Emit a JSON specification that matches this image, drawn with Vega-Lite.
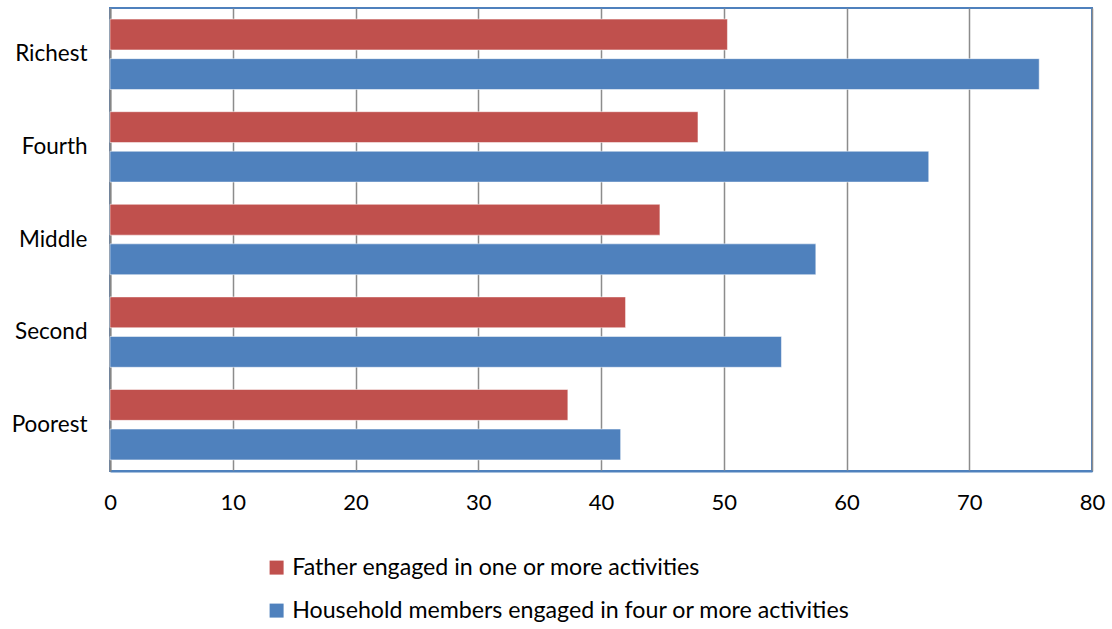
{
  "$schema": "https://vega.github.io/schema/vega-lite/v6.json",
  "width": 982,
  "height": 463,
  "autosize": {"type": "none"},
  "padding": {"left": 110, "top": 8, "right": 20, "bottom": 158},
  "background": "white",
  "config": {
    "font": "Lato",
    "view": {"stroke": "#4F81BD", "strokeWidth": 2},
    "axis": {"labelFont": "Lato", "labelColor": "#000000"}
  },
  "data": {
    "values": [
      {"quintile": "Richest", "series": "Father engaged in one or more activities", "value": 50.3},
      {"quintile": "Richest", "series": "Household members engaged in four or more activities", "value": 75.7},
      {"quintile": "Fourth", "series": "Father engaged in one or more activities", "value": 47.9},
      {"quintile": "Fourth", "series": "Household members engaged in four or more activities", "value": 66.7},
      {"quintile": "Middle", "series": "Father engaged in one or more activities", "value": 44.8},
      {"quintile": "Middle", "series": "Household members engaged in four or more activities", "value": 57.5},
      {"quintile": "Second", "series": "Father engaged in one or more activities", "value": 42.0},
      {"quintile": "Second", "series": "Household members engaged in four or more activities", "value": 54.7},
      {"quintile": "Poorest", "series": "Father engaged in one or more activities", "value": 37.3},
      {"quintile": "Poorest", "series": "Household members engaged in four or more activities", "value": 41.6}
    ]
  },
  "mark": {"type": "bar", "stroke": "#ffffff", "strokeWidth": 1, "strokeOpacity": 0.5},
  "encoding": {
    "y": {
      "field": "quintile",
      "type": "nominal",
      "sort": ["Richest", "Fourth", "Middle", "Second", "Poorest"],
      "scale": {"paddingInner": 0.24, "paddingOuter": 0.12},
      "axis": {
        "title": null,
        "ticks": false,
        "domainColor": "#868686",
        "domainWidth": 2,
        "labelFontSize": 22.5,
        "labelPadding": 23
      }
    },
    "yOffset": {
      "field": "series",
      "type": "nominal",
      "scale": {"paddingInner": 0.22, "paddingOuter": 0}
    },
    "x": {
      "field": "value",
      "type": "quantitative",
      "scale": {"domain": [0, 80], "nice": false},
      "axis": {
        "title": null,
        "values": [0, 10, 20, 30, 40, 50, 60, 70, 80],
        "ticks": false,
        "labelFlush": false,
        "domainColor": "#4F81BD",
        "domainWidth": 2,
        "grid": true,
        "gridColor": "#8C8C8C",
        "gridWidth": 1.5,
        "labelFontSize": 22,
        "labelPadding": 21
      }
    },
    "color": {
      "field": "series",
      "type": "nominal",
      "scale": {
        "domain": ["Father engaged in one or more activities", "Household members engaged in four or more activities"],
        "range": ["#C0504D", "#4F81BD"]
      },
      "legend": {
        "title": null,
        "orient": "none",
        "legendX": 155,
        "legendY": 548,
        "symbolType": "square",
        "symbolSize": 196,
        "symbolStrokeWidth": 0,
        "labelFontSize": 23.2,
        "labelLimit": 900,
        "rowPadding": 19,
        "labelOffset": 4
      }
    }
  }
}
